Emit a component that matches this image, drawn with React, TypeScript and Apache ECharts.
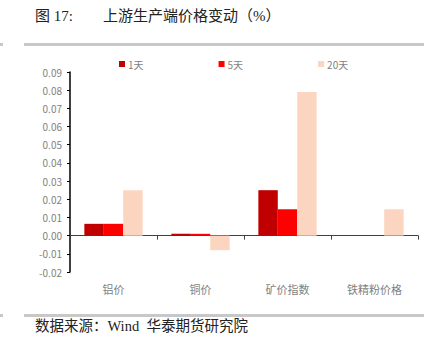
import React, { useEffect, useRef } from "react";
import * as echarts from "echarts";

const categories = ["铝价", "铜价", "矿价指数", "铁精粉价格"];
const seriesNames = ["1天", "5天", "20天"];
const day1 = [0.0065, 0.001, 0.025, 0];
const day5 = [0.0065, 0.001, 0.0145, 0];
const day20 = [0.025, -0.008, 0.079, 0.0145];
const colors = ["#C00000", "#FF0000", "#FCD5C0"];

export default function App() {
  const ref = useRef<HTMLDivElement>(null);
  useEffect(() => {
    if (!ref.current) return;
    const chart = echarts.init(ref.current, undefined, { renderer: "svg" });
    const font = "'Noto Sans CJK SC', 'Noto Sans', sans-serif";
    const serif = "'Liberation Serif', 'Noto Sans CJK SC', serif";
    chart.setOption({
      animation: false,
      textStyle: { fontFamily: font },
      legend: {
        left: 114,
        top: 54,
        itemWidth: 6,
        itemHeight: 6,
        itemGap: 75,
        icon: "rect",
        textStyle: { fontSize: 10, color: "#7F7F7F", padding: [0, 0, 0, -2] },
        data: seriesNames,
      },
      grid: { left: 70, right: 23, top: 72, bottom: 82 },
      xAxis: {
        type: "category",
        data: categories,
        axisLine: { onZero: true, lineStyle: { color: "#404040", width: 1 } },
        axisTick: { show: true, length: 4, lineStyle: { color: "#404040" } },
        axisLabel: { margin: 11, fontSize: 11, color: "#7F7F7F" },
      },
      yAxis: {
        type: "value",
        min: -0.02,
        max: 0.09,
        interval: 0.01,
        splitLine: { show: false },
        axisLine: { show: true, lineStyle: { color: "#000000", width: 1.5 } },
        axisTick: { show: true, length: 3, lineStyle: { color: "#000000" } },
        axisLabel: {
          fontSize: 10,
          color: "#7F7F7F",
          margin: 8,
          formatter: (v: number) => v.toFixed(2),
        },
      },
      series: [day1, day5, day20].map((d, i) => ({
        name: seriesNames[i],
        type: "bar",
        data: d,
        barGap: "0%",
        barCategoryGap: "33%",
        itemStyle: { color: colors[i] },
      })),
      graphic: [
        { type: "rect", shape: { x: 0, y: 43, width: 3, height: 3 }, style: { fill: "#C8C8C8" } },
        { type: "rect", shape: { x: 24, y: 43, width: 400, height: 3 }, style: { fill: "#C8C8C8" } },
        { type: "rect", shape: { x: 0, y: 314, width: 3, height: 3 }, style: { fill: "#C8C8C8" } },
        { type: "rect", shape: { x: 24, y: 314, width: 400, height: 3 }, style: { fill: "#C8C8C8" } },
        {
          type: "text",
          left: 35,
          top: 8,
          style: { text: "图 17:", fontSize: 15, fill: "#222", fontFamily: serif },
        },
        {
          type: "text",
          left: 103,
          top: 8,
          style: { text: "上游生产端价格变动（%）", fontSize: 15, fill: "#222", fontFamily: serif },
        },
        {
          type: "text",
          left: 35,
          top: 319,
          style: { text: "数据来源：Wind  华泰期货研究院", fontSize: 14.5, fill: "#222", fontFamily: serif },
        },
      ],
    });
    return () => chart.dispose();
  }, []);
  return (
    <div
      ref={ref}
      style={{ position: "fixed", left: 0, top: 0, width: 441, height: 354, background: "#fff" }}
    />
  );
}
